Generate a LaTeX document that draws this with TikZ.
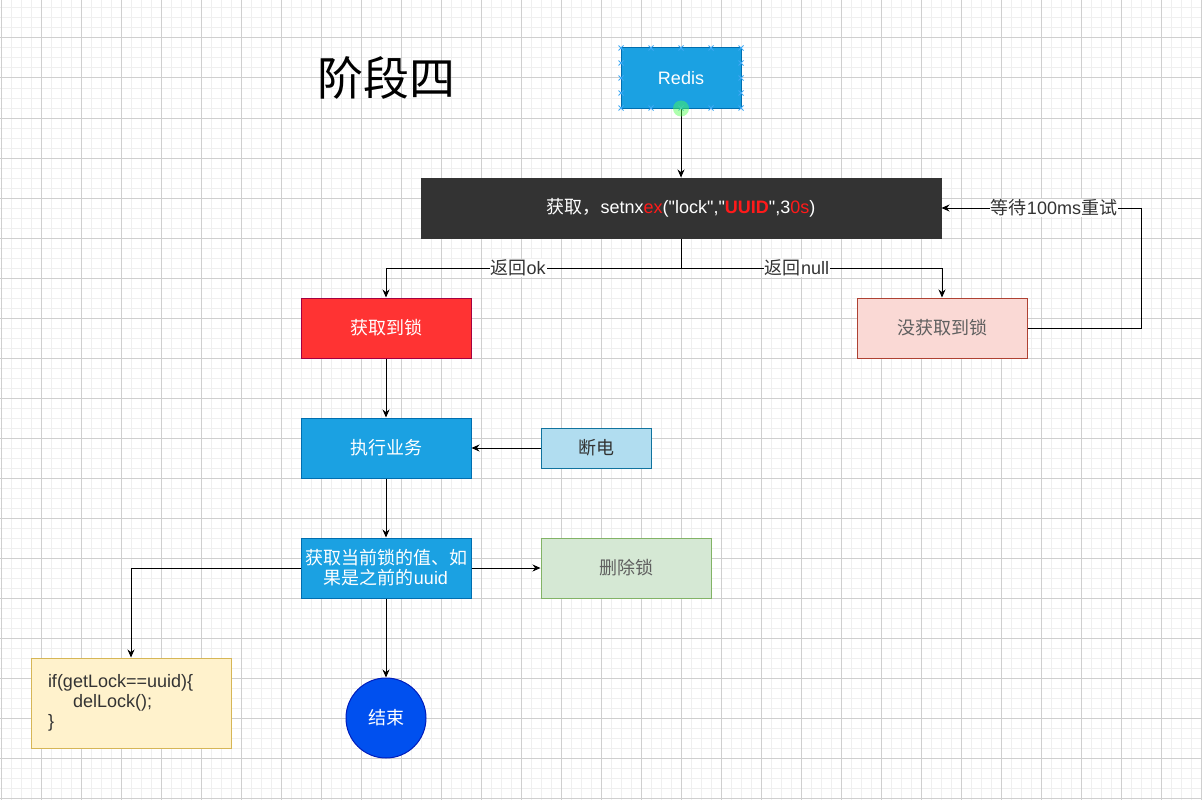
\documentclass[tikz,border=0pt]{standalone}
\usepackage{fontspec}
\setmainfont{Liberation Sans}[Ligatures=TeXOff]
\newfontfamily\cjk{Noto Sans CJK SC}
\usetikzlibrary{arrows.meta}
\definecolor{gridminor}{HTML}{EFEFEF}
\definecolor{gridmajor}{HTML}{CFCFCF}
\definecolor{bluefill}{HTML}{1BA1E2}
\definecolor{blueline}{HTML}{006EAF}
\definecolor{darkfill}{HTML}{333333}
\definecolor{redfill}{HTML}{FF3333}
\definecolor{redline}{HTML}{A50040}
\definecolor{pinkfill}{HTML}{FAD9D5}
\definecolor{pinkline}{HTML}{AE4132}
\definecolor{lbfill}{HTML}{B1DDF0}
\definecolor{lbline}{HTML}{10739E}
\definecolor{greenfill}{HTML}{D5E8D4}
\definecolor{greenline}{HTML}{82B366}
\definecolor{yelfill}{HTML}{FFF2CC}
\definecolor{yelline}{HTML}{D6B656}
\definecolor{endfill}{HTML}{0050EF}
\definecolor{endline}{HTML}{001DBC}
\definecolor{txtgray}{HTML}{5F5F5F}
\definecolor{txtdark}{HTML}{333333}
\definecolor{selmark}{HTML}{3FA9F5}
\definecolor{redtxt}{HTML}{FF1A1A}
\begin{document}
\begin{tikzpicture}[x=1pt,y=-1pt,
  box/.style={draw, line width=1pt, minimum width=170pt, minimum height=60pt, inner sep=0pt, align=center, font=\fontsize{18}{20}\selectfont},
  arr/.style={-{Stealth[length=8pt,width=7pt]}, line width=1pt, draw=black},
  lbl/.style={fill=white, inner sep=1pt, font=\fontsize{18}{20}\selectfont, text=txtdark},
  selx/.style={draw=selmark, line width=0.8pt}]
\useasboundingbox (0,0) rectangle (1202,800);
\fill[white] (0,0) rectangle (1202,800);
% grid
\foreach \x in {1,11,...,1201} \draw[gridminor, line width=1pt] (\x,0) -- (\x,800);
\foreach \y in {8,18,...,798} \draw[gridminor, line width=1pt] (0,\y) -- (1202,\y);
\foreach \x in {1,41,...,1201} \draw[gridmajor, line width=1pt] (\x,0) -- (\x,800);
\foreach \y in {38,78,...,798} \draw[gridmajor, line width=1pt] (0,\y) -- (1202,\y);

% title
\node[font=\cjk\fontsize{46}{50}\selectfont, text=black] (title) at (386,78) {阶段四};

% nodes
\node[box, fill=bluefill, draw=blueline, text=white, minimum width=120pt] (redis) at (681,78) {Redis};
\node[box, fill=darkfill, draw=darkfill, text=white, minimum width=520pt] (setnx) at (681,208)
  {{\cjk 获取，}setnx\textcolor{redtxt}{ex}("lock","\textcolor{redtxt}{\bfseries UUID}",3\textcolor{redtxt}{0s})};
\node[box, fill=redfill, draw=redline, text=white] (gotlock) at (386,328) {\cjk 获取到锁};
\node[box, fill=pinkfill, draw=pinkline, text=txtgray] (nolock) at (942,328) {\cjk 没获取到锁};
\node[box, fill=bluefill, draw=blueline, text=white] (biz) at (386,448) {\cjk 执行业务};
\node[box, fill=lbfill, draw=lbline, text=txtdark, minimum width=110pt, minimum height=40pt] (power) at (596,448) {\cjk 断电};
\node[box, fill=bluefill, draw=blueline, text=white] (check) at (386,568) {\cjk 获取当前锁的值、如\\\cjk 果是之前的{\rmfamily uuid}};
\node[box, fill=greenfill, draw=greenline, text=txtgray] (del) at (626,568) {\cjk 删除锁};
\node[box, fill=yelfill, draw=yelline, text=txtdark, align=left, text width=166pt, inner xsep=17pt, minimum height=90pt, minimum width=200pt] (code) at (131,703)
  {if(getLock==uuid)\{\\\hspace*{25pt}delLock();\\\}};
\node[box, circle, fill=endfill, draw=endline, text=white, minimum width=80pt, minimum height=80pt] (end) at (386,718) {\cjk 结束};

% connectors
\draw[arr] (redis.south) -- (setnx.north);
\draw[line width=1pt] (setnx.south) -- ++(0,30) coordinate (split);
\draw[arr] (split) -| (gotlock.north);
\draw[arr] (split) -| (nolock.north);
\node[lbl] (lok) at (518,268) {{\cjk 返回}ok};
\node[lbl] (lnull) at (797,268) {{\cjk 返回}null};
\draw[arr] (nolock.east) -- ++(114,0) coordinate (loopc) |- (setnx.east);
\node[lbl] (lwait) at (1054,208) {{\cjk 等待}100ms{\cjk 重试}};
\draw[arr] (gotlock.south) -- (biz.north);
\draw[arr] (power.west) -- (biz.east);
\draw[arr] (biz.south) -- (check.north);
\draw[arr] (check.east) -- (del.west);
\draw[arr] (check.west) -| (code.north);
\draw[arr] (check.south) -- (end.north);

% selection handles of Redis
\foreach \x in {621,651,681,711,741} {
  \draw[selx] (\x-2.5,45.5) -- (\x+2.5,50.5) (\x-2.5,50.5) -- (\x+2.5,45.5);
  \draw[selx] (\x-2.5,105.5) -- (\x+2.5,110.5) (\x-2.5,110.5) -- (\x+2.5,105.5);
}
\foreach \y in {63,78,93} {
  \draw[selx] (618.5,\y-2.5) -- (623.5,\y+2.5) (618.5,\y+2.5) -- (623.5,\y-2.5);
  \draw[selx] (738.5,\y-2.5) -- (743.5,\y+2.5) (738.5,\y+2.5) -- (743.5,\y-2.5);
}
\fill[green!70!white, opacity=0.45] (redis.south) circle (8);
\end{tikzpicture}
\end{document}
